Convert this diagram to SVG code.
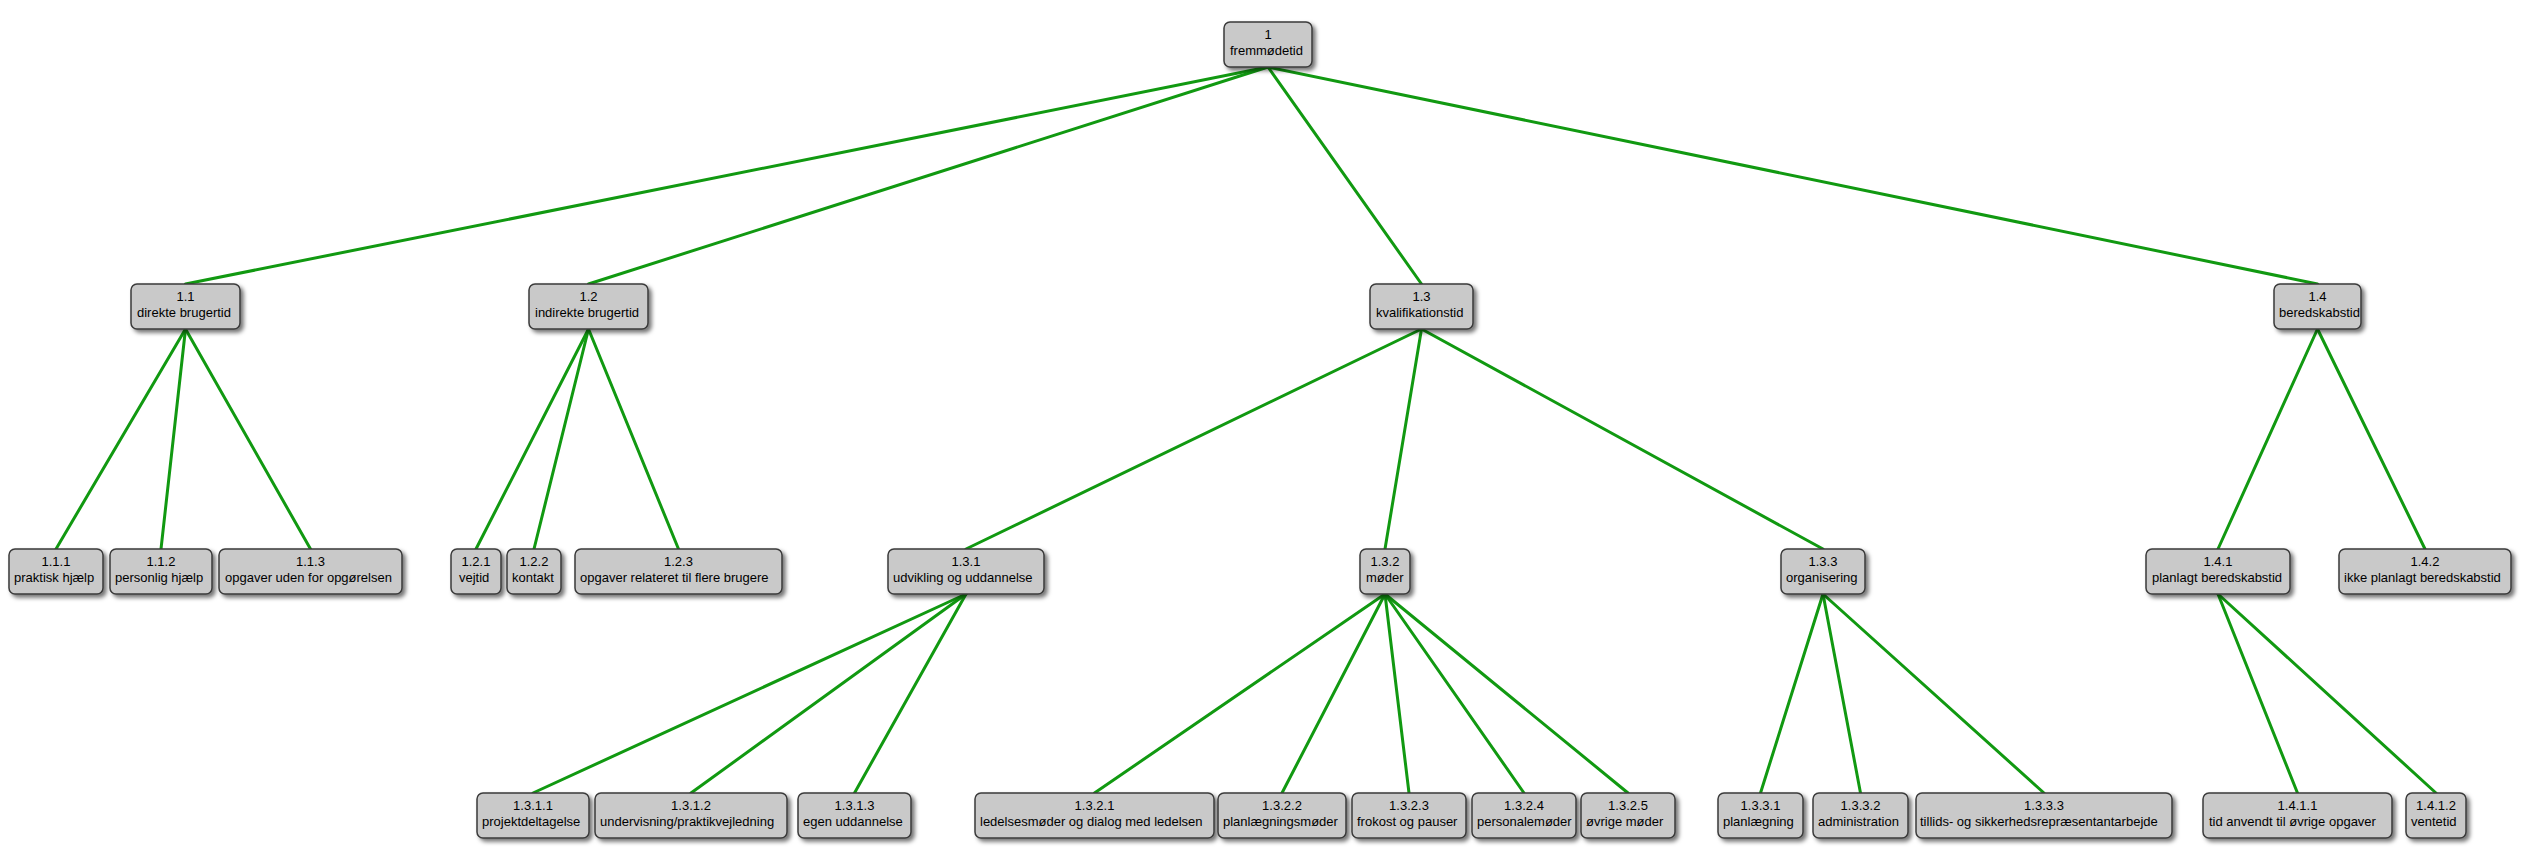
<svg xmlns="http://www.w3.org/2000/svg" width="2531" height="858" viewBox="0 0 2531 858">
<defs>
<filter id="sh" x="-20%" y="-30%" width="140%" height="170%">
<feDropShadow dx="3" dy="3" stdDeviation="2" flood-color="#000" flood-opacity="0.55"/>
</filter>
</defs>
<style>
.box{fill:#c9c9c9;stroke:#3a3a3a;stroke-width:1.5;filter:url(#sh)}
.num{font-family:"Liberation Sans",Arial,sans-serif;font-size:13px;fill:#000;text-anchor:middle}
.lbl{font-family:"Liberation Sans",Arial,sans-serif;font-size:13px;fill:#000}
.edge{stroke:#119911;stroke-width:3;fill:none;stroke-linecap:round}
</style>
<rect width="2531" height="858" fill="#fff"/>
<g id="connectors">
<line class="edge" x1="1268" y1="67" x2="185.5" y2="284"/>
<line class="edge" x1="1268" y1="67" x2="588.5" y2="284"/>
<line class="edge" x1="1268" y1="67" x2="1421.5" y2="284"/>
<line class="edge" x1="1268" y1="67" x2="2317.5" y2="284"/>
<line class="edge" x1="185.5" y1="329" x2="56" y2="549"/>
<line class="edge" x1="185.5" y1="329" x2="161" y2="549"/>
<line class="edge" x1="185.5" y1="329" x2="310.5" y2="549"/>
<line class="edge" x1="588.5" y1="329" x2="476" y2="549"/>
<line class="edge" x1="588.5" y1="329" x2="534" y2="549"/>
<line class="edge" x1="588.5" y1="329" x2="678.5" y2="549"/>
<line class="edge" x1="1421.5" y1="329" x2="966" y2="549"/>
<line class="edge" x1="1421.5" y1="329" x2="1385" y2="549"/>
<line class="edge" x1="1421.5" y1="329" x2="1823" y2="549"/>
<line class="edge" x1="2317.5" y1="329" x2="2218" y2="549"/>
<line class="edge" x1="2317.5" y1="329" x2="2425" y2="549"/>
<line class="edge" x1="966" y1="594" x2="533" y2="793"/>
<line class="edge" x1="966" y1="594" x2="691" y2="793"/>
<line class="edge" x1="966" y1="594" x2="854.5" y2="793"/>
<line class="edge" x1="1385" y1="594" x2="1094.5" y2="793"/>
<line class="edge" x1="1385" y1="594" x2="1282" y2="793"/>
<line class="edge" x1="1385" y1="594" x2="1409" y2="793"/>
<line class="edge" x1="1385" y1="594" x2="1524" y2="793"/>
<line class="edge" x1="1385" y1="594" x2="1628" y2="793"/>
<line class="edge" x1="1823" y1="594" x2="1760.5" y2="793"/>
<line class="edge" x1="1823" y1="594" x2="1860.5" y2="793"/>
<line class="edge" x1="1823" y1="594" x2="2044" y2="793"/>
<line class="edge" x1="2218" y1="594" x2="2297.5" y2="793"/>
<line class="edge" x1="2218" y1="594" x2="2436" y2="793"/>
</g>
<g id="n1"><rect class="box" x="1224" y="22" width="88" height="45" rx="6"/><text class="num" x="1268" y="38.5">1</text><text class="lbl" x="1230" y="54.5">fremmødetid</text></g>
<g id="n1_1"><rect class="box" x="131" y="284" width="109" height="45" rx="6"/><text class="num" x="185.5" y="300.5">1.1</text><text class="lbl" x="137" y="316.5">direkte brugertid</text></g>
<g id="n1_2"><rect class="box" x="529" y="284" width="119" height="45" rx="6"/><text class="num" x="588.5" y="300.5">1.2</text><text class="lbl" x="535" y="316.5">indirekte brugertid</text></g>
<g id="n1_3"><rect class="box" x="1370" y="284" width="103" height="45" rx="6"/><text class="num" x="1421.5" y="300.5">1.3</text><text class="lbl" x="1376" y="316.5">kvalifikationstid</text></g>
<g id="n1_4"><rect class="box" x="2274" y="284" width="87" height="45" rx="6"/><text class="num" x="2317.5" y="300.5">1.4</text><text class="lbl" x="2279" y="316.5">beredskabstid</text></g>
<g id="n1_1_1"><rect class="box" x="9" y="549" width="94" height="45" rx="6"/><text class="num" x="56" y="565.5">1.1.1</text><text class="lbl" x="14" y="581.5">praktisk hjælp</text></g>
<g id="n1_1_2"><rect class="box" x="110" y="549" width="102" height="45" rx="6"/><text class="num" x="161" y="565.5">1.1.2</text><text class="lbl" x="115" y="581.5">personlig hjælp</text></g>
<g id="n1_1_3"><rect class="box" x="219" y="549" width="183" height="45" rx="6"/><text class="num" x="310.5" y="565.5">1.1.3</text><text class="lbl" x="225" y="581.5">opgaver uden for opgørelsen</text></g>
<g id="n1_2_1"><rect class="box" x="451" y="549" width="50" height="45" rx="6"/><text class="num" x="476" y="565.5">1.2.1</text><text class="lbl" x="459" y="581.5">vejtid</text></g>
<g id="n1_2_2"><rect class="box" x="507" y="549" width="54" height="45" rx="6"/><text class="num" x="534" y="565.5">1.2.2</text><text class="lbl" x="512" y="581.5">kontakt</text></g>
<g id="n1_2_3"><rect class="box" x="575" y="549" width="207" height="45" rx="6"/><text class="num" x="678.5" y="565.5">1.2.3</text><text class="lbl" x="580" y="581.5">opgaver relateret til flere brugere</text></g>
<g id="n1_3_1"><rect class="box" x="888" y="549" width="156" height="45" rx="6"/><text class="num" x="966" y="565.5">1.3.1</text><text class="lbl" x="893" y="581.5">udvikling og uddannelse</text></g>
<g id="n1_3_2"><rect class="box" x="1360" y="549" width="50" height="45" rx="6"/><text class="num" x="1385" y="565.5">1.3.2</text><text class="lbl" x="1366" y="581.5">møder</text></g>
<g id="n1_3_3"><rect class="box" x="1781" y="549" width="84" height="45" rx="6"/><text class="num" x="1823" y="565.5">1.3.3</text><text class="lbl" x="1786" y="581.5">organisering</text></g>
<g id="n1_4_1"><rect class="box" x="2146" y="549" width="144" height="45" rx="6"/><text class="num" x="2218" y="565.5">1.4.1</text><text class="lbl" x="2152" y="581.5">planlagt beredskabstid</text></g>
<g id="n1_4_2"><rect class="box" x="2339" y="549" width="172" height="45" rx="6"/><text class="num" x="2425" y="565.5">1.4.2</text><text class="lbl" x="2344" y="581.5">ikke planlagt beredskabstid</text></g>
<g id="n1_3_1_1"><rect class="box" x="477" y="793" width="112" height="45" rx="6"/><text class="num" x="533" y="809.5">1.3.1.1</text><text class="lbl" x="482" y="825.5">projektdeltagelse</text></g>
<g id="n1_3_1_2"><rect class="box" x="595" y="793" width="192" height="45" rx="6"/><text class="num" x="691" y="809.5">1.3.1.2</text><text class="lbl" x="600" y="825.5">undervisning/praktikvejledning</text></g>
<g id="n1_3_1_3"><rect class="box" x="798" y="793" width="113" height="45" rx="6"/><text class="num" x="854.5" y="809.5">1.3.1.3</text><text class="lbl" x="803" y="825.5">egen uddannelse</text></g>
<g id="n1_3_2_1"><rect class="box" x="975" y="793" width="239" height="45" rx="6"/><text class="num" x="1094.5" y="809.5">1.3.2.1</text><text class="lbl" x="980" y="825.5">ledelsesmøder og dialog med ledelsen</text></g>
<g id="n1_3_2_2"><rect class="box" x="1218" y="793" width="128" height="45" rx="6"/><text class="num" x="1282" y="809.5">1.3.2.2</text><text class="lbl" x="1223" y="825.5">planlægningsmøder</text></g>
<g id="n1_3_2_3"><rect class="box" x="1352" y="793" width="114" height="45" rx="6"/><text class="num" x="1409" y="809.5">1.3.2.3</text><text class="lbl" x="1357" y="825.5">frokost og pauser</text></g>
<g id="n1_3_2_4"><rect class="box" x="1472" y="793" width="104" height="45" rx="6"/><text class="num" x="1524" y="809.5">1.3.2.4</text><text class="lbl" x="1477" y="825.5">personalemøder</text></g>
<g id="n1_3_2_5"><rect class="box" x="1581" y="793" width="94" height="45" rx="6"/><text class="num" x="1628" y="809.5">1.3.2.5</text><text class="lbl" x="1586" y="825.5">øvrige møder</text></g>
<g id="n1_3_3_1"><rect class="box" x="1718" y="793" width="85" height="45" rx="6"/><text class="num" x="1760.5" y="809.5">1.3.3.1</text><text class="lbl" x="1723" y="825.5">planlægning</text></g>
<g id="n1_3_3_2"><rect class="box" x="1813" y="793" width="95" height="45" rx="6"/><text class="num" x="1860.5" y="809.5">1.3.3.2</text><text class="lbl" x="1818" y="825.5">administration</text></g>
<g id="n1_3_3_3"><rect class="box" x="1916" y="793" width="256" height="45" rx="6"/><text class="num" x="2044" y="809.5">1.3.3.3</text><text class="lbl" x="1920" y="825.5">tillids- og sikkerhedsrepræsentantarbejde</text></g>
<g id="n1_4_1_1"><rect class="box" x="2203" y="793" width="189" height="45" rx="6"/><text class="num" x="2297.5" y="809.5">1.4.1.1</text><text class="lbl" x="2209" y="825.5">tid anvendt til øvrige opgaver</text></g>
<g id="n1_4_1_2"><rect class="box" x="2406" y="793" width="60" height="45" rx="6"/><text class="num" x="2436" y="809.5">1.4.1.2</text><text class="lbl" x="2411" y="825.5">ventetid</text></g>
</svg>
